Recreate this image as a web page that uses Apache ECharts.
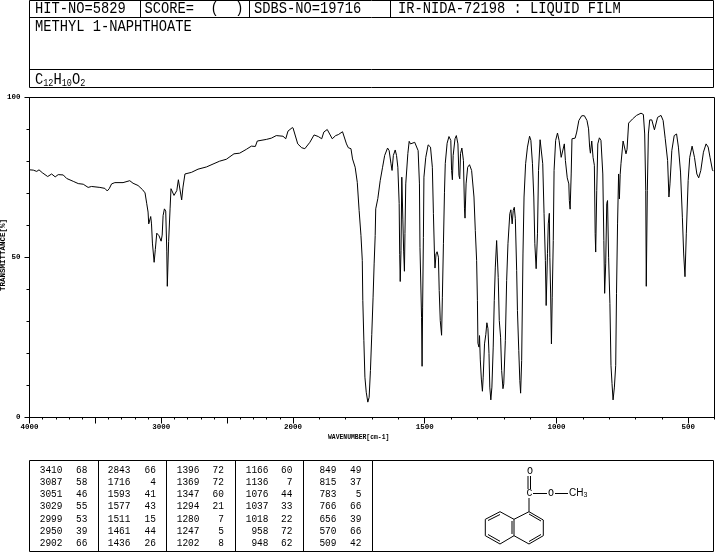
<!DOCTYPE html>
<html><head><meta charset="utf-8">
<style>html,body{margin:0;padding:0;background:#fff}#c{width:715px;height:553px}</style>
<script src="https://cdn.jsdelivr.net/npm/echarts@6/dist/echarts.min.js"></script>
</head><body><div id="c"></div>
<script>
const headerHit = 'HIT-NO=5829';
const headerScore = 'SCORE=  (  )';
const headerSdbs = 'SDBS-NO=19716';
const headerIr = 'IR-NIDA-72198 : LIQUID FILM';
const compoundName = 'METHYL 1-NAPHTHOATE';
const yTitle = 'TRANSMITTANCE[%]';
const xTitle = 'WAVENUMBER[cm-1]';

// spectrum, 4000-2000 cm-1 (compressed part of the axis)
const spectrumHigh = [
[4000,77.4],[3971,77.3],[3945,76.9],[3928,77.4],[3903,76.5],[3862,75.3],[3832,76.1],[3805,75.2],[3782,75.9],[3744,75.8],
[3718,74.7],[3668,73.8],[3630,73.1],[3592,72.9],[3555,71.9],[3529,72.2],[3466,71.9],[3428,71.6],[3410,70.8],[3395,71.5],
[3377,73.0],[3352,73.4],[3290,73.4],[3276,74.0],[3239,74.0],[3214,73.2],[3176,72.5],[3142,71.2],[3123,70.2],[3110,66.8],
[3100,64.2],[3095,60.5],[3087,60.5],[3080,62.8],[3074,60.5],[3067,54.5],[3054,48.5],[3045,52.5],[3034,57.6],[3017,56.8],
[3001,55.1],[2993,57],[2986,63.1],[2976,65.2],[2966,64.5],[2958,52],[2954,41],[2950,41],[2944,55],[2933,65.2],
[2926,71.5],[2915,71.7],[2903,69.4],[2882,70.9],[2870,74.3],[2857,73.8],[2845,68],[2835,72],[2820,76.1],[2771,76.6],
[2721,77.6],[2657,78.3],[2607,79.2],[2557,80.1],[2506,80.7],[2448,82.4],[2405,82.6],[2354,83.8],[2316,84.8],[2286,84.7],
[2271,86.4],[2202,86.9],[2164,87.3],[2127,88.1],[2076,87.9],[2068,88.4],[2055,87.1],[2038,89.5],[2005,90.6],[2000,90.5]
];
// spectrum, 2000-400 cm-1
const spectrumLow = [
[2000,90.5],[1996,90.4],[1982,85.5],[1967,84.3],[1955,84],[1936,86],[1920,88.3],[1904,87.8],[1891,87.1],[1883,89.2],
[1870,90],[1851,87.1],[1838,88.1],[1828,88.4],[1812,89.3],[1807,89.2],[1797,85.5],[1790,84.3],[1780,84],[1774,80.8],
[1764,78.2],[1756,73.5],[1749,64.7],[1742,56.9],[1737,49.1],[1735,36.6],[1731,24],[1727,12.6],[1722,7.9],[1716,4.8],
[1711,6.3],[1706,14.7],[1701,26],[1696,37.6],[1692,48],[1688,56.9],[1686,65.2],[1678,68.4],[1669,74],[1660,78.2],
[1652,81.9],[1641,84.2],[1635,83.4],[1628,79.3],[1624,77.2],[1619,81.9],[1612,83.6],[1607,81.9],[1602,78.2],[1597,66.9],
[1595,51],[1593,42.5],[1590,52.2],[1587,75.1],[1585,75.5],[1583,62],[1580,52],[1577,45.7],[1575,57.5],[1572,73],
[1564,82.5],[1559,86.3],[1554,85.5],[1548,85],[1538,86],[1531,86],[1525,83.4],[1520,73],[1518,53.2],[1512,31.3],
[1510,16],[1508,34.5],[1505,56.3],[1503,75.1],[1496,81.3],[1487,85.2],[1478,84.5],[1471,78.2],[1467,63.7],[1463,51.1],
[1461,46.7],[1457,51.1],[1453,51.8],[1448,50.1],[1445,39.7],[1441,30.3],[1436,25.7],[1433,37.6],[1429,54.3],[1425,70.4],
[1422,79.4],[1415,85.7],[1408,87.8],[1401,86.6],[1398,77.2],[1395,74.3],[1392,81.9],[1385,87.1],[1380,88.1],[1374,85.5],
[1370,75.6],[1367,74.6],[1364,82.5],[1359,84.2],[1353,80.3],[1349,65.2],[1347,62.3],[1343,73],[1337,78.2],[1330,79],
[1322,77.2],[1313,68.9],[1308,58.4],[1303,49.1],[1300,36.6],[1298,23.2],[1294,22],[1292,25.6],[1289,18],[1285,12],
[1281,8.2],[1278,12.6],[1273,23],[1268,26],[1264,29.6],[1260,27.8],[1256,20],[1253,9.5],[1249,5.5],[1245,9.5],
[1240,22],[1236,36.6],[1232,47],[1227,55.3],[1223,55.8],[1221,43.8],[1217,30.3],[1212,25.1],[1208,14.7],[1203,9],
[1200,10.5],[1194,24],[1189,42.8],[1184,54.3],[1177,63.7],[1173,64.9],[1168,60.5],[1164,64.7],[1160,65.7],[1156,62.1],
[1151,45.9],[1148,33.4],[1143,20.9],[1139,11.6],[1136,7.6],[1132,17.8],[1127,51.1],[1123,68.9],[1117,79.3],[1110,84.5],
[1102,87.9],[1097,86.6],[1091,79.3],[1086,68.9],[1082,54.3],[1077,46.5],[1072,57.4],[1068,77.2],[1062,86.8],[1057,86.6],
[1052,79.3],[1047,63.7],[1042,49.1],[1039,35],[1034,51.2],[1031,60.5],[1027,63.8],[1025,50],[1022,38.6],[1019,23],
[1016,37.6],[1012,55.3],[1009,77.2],[1003,86.6],[996,88.9],[990,86.6],[982,81.3],[976,81.9],[970,85.5],[966,80.3],
[959,74.9],[953,73],[951,67.8],[948,65.1],[944,76.1],[941,87.1],[929,87.3],[923,89.2],[915,92.8],[904,94.3],
[894,94.3],[884,92.8],[878,90.2],[874,84.5],[871,82.6],[866,86.4],[861,81.3],[856,78.8],[853,57.5],[851,51.7],
[847,70.9],[843,85.5],[837,87.4],[831,86.6],[824,76.1],[820,55.3],[817,38.8],[813,48],[809,66.9],[806,67.8],
[802,50.1],[797,35.6],[793,16.3],[789,10.6],[785,5.5],[780,9.5],[775,16.3],[772,38.8],[768,60.5],[764,76.1],
[761,68.3],[758,76],[755,79.3],[747,86.4],[741,86],[736,82.4],[732,83.8],[726,92],[711,93.3],[696,94.4],
[679,95.1],[670,94.7],[665,88.6],[661,70.9],[659,41],[655,70.9],[651,88.6],[646,93],[638,93],[628,89.9],
[616,93.8],[603,94.4],[595,92.8],[587,87.1],[578,80.3],[573,68.9],[569,73],[562,83.4],[553,88.1],[544,88.6],
[537,84.5],[529,76.7],[522,62.6],[517,51.1],[512,44],[507,57.4],[500,74.1],[494,81.3],[485,84.8],[476,81.3],
[467,76.1],[460,74.9],[452,77.2],[442,82.9],[432,85.5],[424,84.5],[417,81.3],[408,77.4],[405,77]
];

// peak table: five columns of seven [wavenumber, transmittance]
const peakColumn1 = [['3410','68'],['3087','58'],['3051','46'],['3029','55'],['2999','53'],['2950','39'],['2902','66']];
const peakColumn2 = [['2843','66'],['1716','4'],['1593','41'],['1577','43'],['1511','15'],['1461','44'],['1436','26']];
const peakColumn3 = [['1396','72'],['1369','72'],['1347','60'],['1294','21'],['1280','7'],['1247','5'],['1202','8']];
const peakColumn4 = [['1166','60'],['1136','7'],['1076','44'],['1037','33'],['1018','22'],['958','72'],['948','62']];
const peakColumn5 = [['849','49'],['815','37'],['783','5'],['766','66'],['656','39'],['570','66'],['509','42']];
const peakColumns = [peakColumn1, peakColumn2, peakColumn3, peakColumn4, peakColumn5];

const MONO = '"Liberation Mono","DejaVu Sans Mono",monospace';
const LW = {stroke:'#000', lineWidth:1, fill:null};
const g = [];
function ln(x1,y1,x2,y2){ g.push({type:'line',silent:true,shape:{x1,y1,x2,y2},style:LW}); }
function box(x1,y1,x2,y2){ g.push({type:'rect',silent:true,shape:{x:x1,y:y1,width:x2-x1,height:y2-y1},style:LW}); }
function tx(x,y,text,size,align,sy){ g.push({type:'text',silent:true,x,y,scaleY:sy||1,style:{text,fill:'#000',font:size+'px '+MONO,align:align||'left',verticalAlign:'middle'}}); }

// header boxes
box(29.5,0.5,713.5,87.5);
ln(29.5,17.5,713.5,17.5); ln(29.5,69.5,713.5,69.5);
ln(140.5,0.5,140.5,17.5); ln(249.5,0.5,249.5,17.5); ln(390.5,0.5,390.5,17.5);
tx(35,9,headerHit,13.75,'left',1.2); tx(144.5,9,headerScore,13.75,'left',1.2); tx(254,9,headerSdbs,13.75,'left',1.2); tx(398,9,headerIr,13.75,'left',1.2);
tx(35,27,compoundName,13.75,'left',1.2);
g.push({type:'text',silent:true,x:35,y:80,scaleY:1.2,style:{
  text:'{b|C}{s|12}{b|H}{s|10}{b|O}{s|2}',fill:'#000',verticalAlign:'middle',
  rich:{b:{font:'13.75px '+MONO,fill:'#000',verticalAlign:'bottom'},s:{font:'8.5px '+MONO,fill:'#000',verticalAlign:'bottom'}}
}});

// plot frame (top and right edges), titles
ln(29.5,97.5,714.5,97.5); ln(714.5,97.5,714.5,417.5);
g.push({type:'text',silent:true,x:3,y:255,rotation:Math.PI/2,style:{text:yTitle,fill:'#000',font:'bold 7.5px '+MONO,align:'center',verticalAlign:'middle'}});
tx(328,437,xTitle,6.4);
g[g.length-1].style.font='bold 6.4px '+MONO;

// peak table
box(29.5,460.5,372.5,551.5); box(372.5,460.5,713.5,551.5);
[98.5,166.5,235.5,303.5].forEach(x=>ln(x,460.5,x,551.5));
const rowY=[470,482,494,506.5,519,531,543];
const wnRight=[62.5,130.5,199.5,268.5,336.5], tRight=[87.5,156,224,292.5,361.5];
peakColumns.forEach((col,c)=>col.forEach((p,r)=>{
  tx(wnRight[c],rowY[r],p[0],9.5,'right',1.15); tx(tRight[c],rowY[r],p[1],9.5,'right',1.15);
}));

// structure
const segs=[[528,476,528,489],[530.5,476,530.5,489],[529,498,529,511.7],[533,493.5,547,493.5],[555,493.5,568,493.5],
[529,511.7,543.3,520],[543.3,520,543.3,535.7],[543.3,535.7,529,544],[529,544,514,535.7],[514,535.7,514,519.3],[514,519.3,529,511.7],
[514,519.3,500,511.7],[500,511.7,485.3,519.3],[485.3,519.3,485.3,535.7],[485.3,535.7,500,544],[500,544,514,535.7],
[512,521,512,534],[529,514,541,521],[541,534.5,529,541.5],[488,520.5,500,514.5],[488,534.5,500,541.3]];
segs.forEach(s=>ln(s[0],s[1],s[2],s[3]));
tx(530,471,'O',10,'center'); tx(529.5,493.5,'C',10,'center'); tx(551,493.5,'O',10,'center');
g.push({type:'text',silent:true,x:569,y:493.5,style:{text:'{b|CH}{s|3}',verticalAlign:'middle',
  rich:{b:{font:'10px "Liberation Sans",sans-serif',fill:'#000',verticalAlign:'bottom'},s:{font:'7px "Liberation Sans",sans-serif',fill:'#000',verticalAlign:'bottom'}}}});

const tickLabel={fontFamily:MONO,fontSize:7.5,color:'#000',fontWeight:'bold'};
const line={show:true,lineStyle:{color:'#000',width:1}};
const opt={
  animation:false,backgroundColor:'#fff',
  grid:[{left:29.5,top:97.5,width:263.5,height:320},{left:293,top:97.5,width:421.5,height:320}],
  xAxis:[
    {type:'value',gridIndex:0,min:2000,max:4000,inverse:true,interval:500,position:'bottom',splitLine:{show:false},axisLine:line,
     axisTick:{show:true,length:6,lineStyle:{color:'#000'}},minorTick:{show:true,splitNumber:5,length:2,lineStyle:{color:'#000'}},
     axisLabel:{...tickLabel,margin:6,showMinLabel:true,showMaxLabel:true,hideOverlap:false,formatter:v=>(v%1000===0)?String(v):''}},
    {type:'value',gridIndex:1,min:400,max:2000,inverse:true,interval:100,position:'bottom',splitLine:{show:false},axisLine:line,
     axisTick:{show:true,length:2,lineStyle:{color:'#000'}},axisLabel:{show:false}},
    {type:'value',gridIndex:1,min:400,max:2000,inverse:true,position:'bottom',splitLine:{show:false},axisLine:line,
     axisTick:{show:true,length:6,customValues:[1500,1000,500],lineStyle:{color:'#000'}},
     axisLabel:{...tickLabel,margin:6,customValues:[1500,1000,500],formatter:v=>String(v)}}
  ],
  yAxis:[
    {type:'value',gridIndex:0,min:0,max:100,interval:50,splitLine:{show:false},axisLine:line,
     axisTick:{show:true,length:5,lineStyle:{color:'#000'}},minorTick:{show:true,splitNumber:5,length:3,lineStyle:{color:'#000'}},
     axisLabel:{...tickLabel,margin:9}},
    {type:'value',gridIndex:1,min:0,max:100,show:false}
  ],
  series:[
    {type:'line',xAxisIndex:0,yAxisIndex:0,data:spectrumHigh,showSymbol:false,symbol:'none',lineStyle:{color:'#000',width:1},clip:false},
    {type:'line',xAxisIndex:1,yAxisIndex:1,data:spectrumLow,showSymbol:false,symbol:'none',lineStyle:{color:'#000',width:1},clip:false}
  ],
  graphic:{elements:g}
};
echarts.init(document.getElementById('c')).setOption(opt);
</script></body></html>
